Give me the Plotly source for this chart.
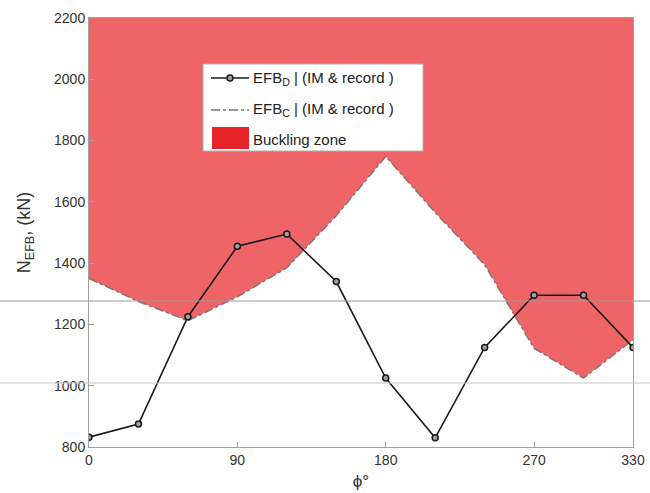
import plotly.graph_objects as go

phi = [0, 30, 60, 90, 120, 150, 180, 210, 240, 270, 300, 330]
efb_d = [832, 875, 1225, 1455, 1495, 1340, 1025, 830, 1125, 1295, 1295, 1125]
efb_c = [1350, 1275, 1212, 1290, 1385, 1555, 1748, 1565, 1395, 1122, 1025, 1150]
y_top = 2200
x_ticks = [0, 90, 180, 270, 330]
y_ticks = [800, 1000, 1200, 1400, 1600, 1800, 2000, 2200]

FILL = "#EF6467"
FONT = "Liberation Sans, Arial, sans-serif"

L, R, T, B = 89, 17, 18, 46
W, H = 650, 493
PW, PH = W - L - R, H - T - B


def px(x):
    return (x - L) / PW


def py(y):
    return (H - B - y) / PH


fig = go.Figure()

# buckling zone: from EFB_C up to the top
fig.add_trace(go.Scatter(x=phi, y=[y_top] * len(phi), mode="lines",
                         line=dict(width=0, color=FILL), showlegend=False,
                         hoverinfo="skip"))
fig.add_trace(go.Scatter(x=phi, y=efb_c, mode="lines", fill="tonexty",
                         fillcolor=FILL,
                         line=dict(color="#857272", width=1.5, dash="dashdot"),
                         showlegend=False))
fig.add_trace(go.Scatter(x=phi, y=efb_d, mode="lines+markers",
                         line=dict(color="#1a1a1a", width=1.6),
                         marker=dict(symbol="circle", size=6, color="#a0a0a0",
                                     line=dict(color="#1a1a1a", width=1.5)),
                         showlegend=False))

shapes = []
# faint scan lines across the page
for yy, col in [(301, "#9a9a9a"), (383, "#c8c8c8")]:
    shapes.append(dict(type="line", xref="paper", yref="paper",
                       x0=px(0), x1=px(W), y0=py(yy), y1=py(yy),
                       line=dict(color=col, width=1), layer="above"))

# manual legend
shapes.append(dict(type="rect", xref="paper", yref="paper",
                   x0=px(203), x1=px(423), y0=py(151), y1=py(64),
                   fillcolor="white", line=dict(color="#b0b0b0", width=1),
                   layer="above"))
shapes.append(dict(type="line", xref="paper", yref="paper",
                   x0=px(211), x1=px(249), y0=py(78), y1=py(78),
                   line=dict(color="#1a1a1a", width=1.6), layer="above"))
shapes.append(dict(type="circle", xref="paper", yref="paper",
                   x0=px(227), x1=px(233), y0=py(81), y1=py(75),
                   fillcolor="#a0a0a0", line=dict(color="#1a1a1a", width=1.5),
                   layer="above"))
shapes.append(dict(type="line", xref="paper", yref="paper",
                   x0=px(211), x1=px(249), y0=py(110), y1=py(110),
                   line=dict(color="#857272", width=1.5, dash="dashdot"),
                   layer="above"))
shapes.append(dict(type="rect", xref="paper", yref="paper",
                   x0=px(212), x1=px(249), y0=py(149), y1=py(127),
                   fillcolor="#E8242A", line=dict(width=0), layer="above"))

annotations = []
for yy, txt in [(78, "EFB<sub>D</sub> | (IM & record )"),
                (110, "EFB<sub>C</sub> | (IM & record )"),
                (139, "Buckling zone")]:
    annotations.append(dict(xref="paper", yref="paper", x=px(251), y=py(yy),
                            xanchor="left", yanchor="middle", text=txt,
                            showarrow=False,
                            font=dict(family=FONT, size=15, color="#222")))

fig.update_layout(
    width=W, height=H,
    margin=dict(l=L, r=R, t=T, b=B),
    paper_bgcolor="white", plot_bgcolor="white",
    font=dict(family=FONT, size=14, color="#333"),
    shapes=shapes, annotations=annotations,
    showlegend=False,
)
fig.update_xaxes(range=[0, 330], tickvals=x_ticks, ticktext=[str(v) for v in x_ticks],
                 showgrid=False, zeroline=False, showline=True, linecolor="#a0a0a0",
                 linewidth=1, mirror=True, ticks="inside", ticklen=5, automargin=False,
                 tickcolor="#a0a0a0", tickfont=dict(size=14, color="#333"),
                 title=dict(text="ϕ°", font=dict(size=17, color="#333"), standoff=8))
fig.update_yaxes(range=[800, 2200], tickvals=y_ticks, ticktext=[str(v) for v in y_ticks],
                 showgrid=False, zeroline=False, showline=True, linecolor="#a0a0a0",
                 linewidth=1, mirror=True, ticks="inside", ticklen=5, automargin=False,
                 tickcolor="#a0a0a0", tickfont=dict(size=14, color="#333"),
                 title=dict(text="N<sub>EFB</sub>, (kN)", font=dict(size=18, color="#333"),
                            standoff=18))

fig.write_html("out.html")
